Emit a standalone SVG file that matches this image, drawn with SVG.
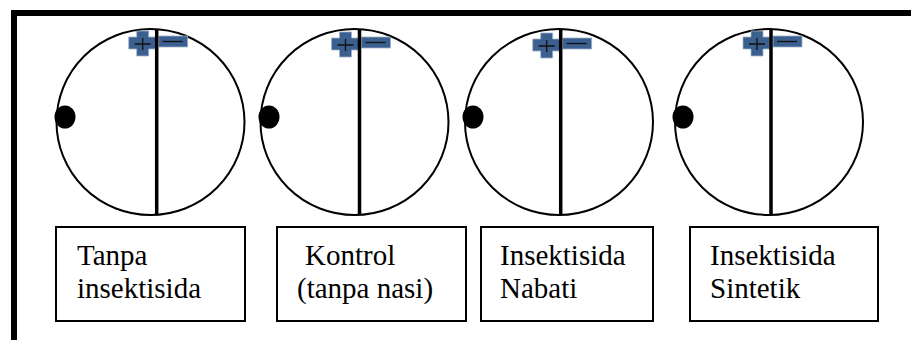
<svg xmlns="http://www.w3.org/2000/svg" xmlns:xlink="http://www.w3.org/1999/xlink" width="911" height="340" viewBox="0 0 911 340">
  <style>
    .dish { fill: none; stroke: #000; stroke-width: 2; }
    .divider { stroke: #000; stroke-width: 3.5; }
    .bait { fill: #000; }
    .label-box { fill: #fff; stroke: #000; stroke-width: 2; }
    .label { font-size: 29px; fill: #000; }
    .pole { fill: #3b5f8e; stroke: #9fb2cb; stroke-width: 0.8; }
    .sign { stroke: #111; stroke-width: 1.3; fill: none; }
    .frame { fill: #000; }
  </style>
  <defs>
    <!-- plus / minus poles, origin = divider x, top of the dish -->
    <g id="poles">
      <path class="pole" d="M-20,0 H-8 V6 H-1 V18 H-8 V25 H-20 V18 H-28 V6 H-20 Z"/>
      <rect class="pole" x="2" y="5" width="29" height="11"/>
      <path class="sign" d="M-22,13 H-6 M-14,7 V19"/>
      <path class="sign" d="M6,10.5 H26" stroke-width="1"/>
    </g>
  </defs>

  <!-- outer frame (top and left edges) -->
  <rect class="frame" x="11" y="10" width="900" height="6"/>
  <rect class="frame" x="11" y="10" width="6" height="330"/>

  <g id="dish-1">
    <ellipse class="dish" cx="150.5" cy="122" rx="94" ry="93"/>
    <use xlink:href="#poles" x="156.7" y="31"/>
    <line class="divider" x1="156.7" y1="29" x2="156.7" y2="215"/>
    <ellipse class="bait" cx="65" cy="117" rx="10.5" ry="11.5"/>
  </g>
  <g id="dish-2">
    <ellipse class="dish" cx="354.5" cy="122" rx="94" ry="93"/>
    <use xlink:href="#poles" x="359.5" y="32"/>
    <line class="divider" x1="359.5" y1="29" x2="359.5" y2="215"/>
    <ellipse class="bait" cx="269" cy="117" rx="10.5" ry="11.5"/>
  </g>
  <g id="dish-3">
    <ellipse class="dish" cx="559" cy="122" rx="94" ry="93"/>
    <use xlink:href="#poles" x="560.7" y="33"/>
    <line class="divider" x1="560.7" y1="29" x2="560.7" y2="215"/>
    <ellipse class="bait" cx="473" cy="117" rx="10.5" ry="11.5"/>
  </g>
  <g id="dish-4">
    <ellipse class="dish" cx="769" cy="122" rx="94" ry="93"/>
    <use xlink:href="#poles" x="771" y="31"/>
    <line class="divider" x1="771" y1="29" x2="771" y2="215"/>
    <ellipse class="bait" cx="683" cy="117" rx="10.5" ry="11.5"/>
  </g>

  <g font-family="'Liberation Serif', 'Times New Roman', 'DejaVu Serif', serif">
    <g id="label-1">
      <rect class="label-box" x="56" y="227" width="189" height="94"/>
      <text class="label" x="77" y="265">Tanpa</text>
      <text class="label" x="77" y="298">insektisida</text>
    </g>
    <g id="label-2">
      <rect class="label-box" x="277" y="227" width="189" height="94"/>
      <text class="label" x="305" y="265">Kontrol</text>
      <text class="label" x="297" y="298">(tanpa nasi)</text>
    </g>
    <g id="label-3">
      <rect class="label-box" x="481" y="227" width="172" height="94"/>
      <text class="label" x="500" y="265">Insektisida</text>
      <text class="label" x="500" y="298">Nabati</text>
    </g>
    <g id="label-4">
      <rect class="label-box" x="690" y="227" width="188" height="94"/>
      <text class="label" x="710" y="265">Insektisida</text>
      <text class="label" x="710" y="298">Sintetik</text>
    </g>
  </g>

  <g id="connectors"/>
</svg>
